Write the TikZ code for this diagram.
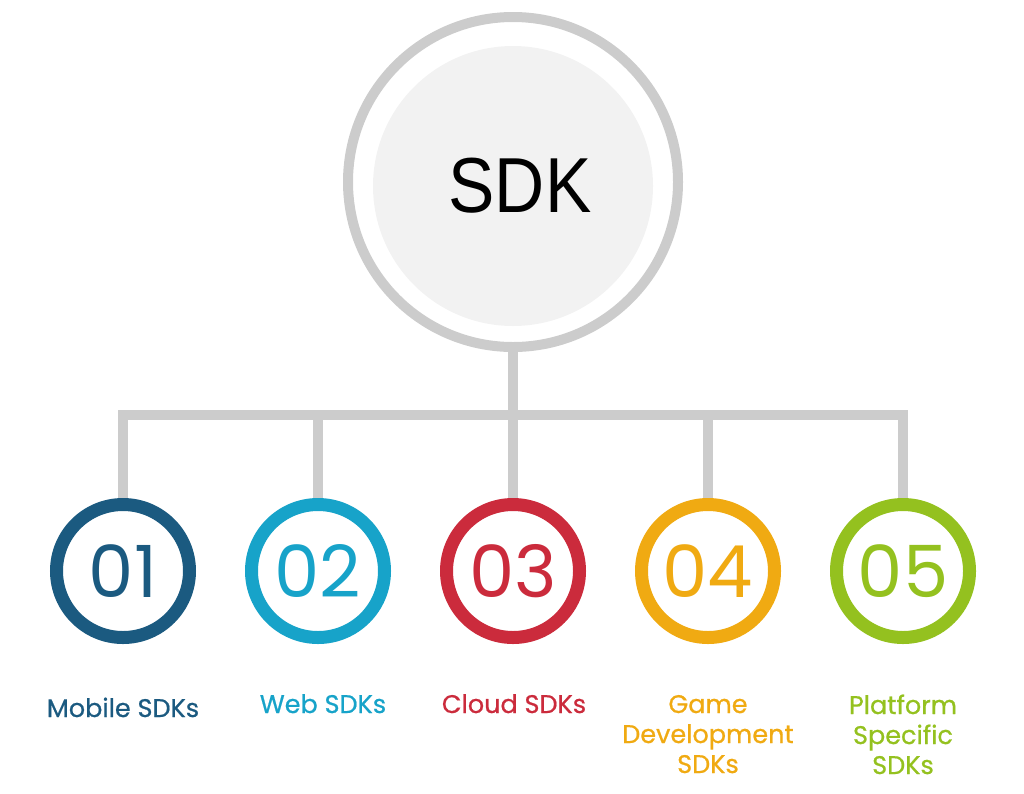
\documentclass[tikz,border=0pt]{standalone}
\usepackage{fontspec}
\setmainfont{Poppins}
\newfontfamily\sdkfont[FakeStretch=0.89]{Liberation Sans}
\definecolor{ringgrey}{HTML}{CCCCCC}
\definecolor{fillgrey}{HTML}{F2F2F2}
\definecolor{cA}{HTML}{1B5A80}
\definecolor{cB}{HTML}{17A3C9}
\definecolor{cC}{HTML}{CB2B3C}
\definecolor{cD}{HTML}{F0AA12}
\definecolor{cE}{HTML}{94C11F}
\tikzset{
  conn/.style={draw=ringgrey, line width=10pt, line join=miter},
  numring/.style={circle, draw=#1, text=#1, line width=13pt, minimum size=133pt, inner sep=0pt, font=\fontsize{72}{72}\selectfont},
  lab/.style={text=#1, align=center, anchor=base, font=\fontsize{25.5}{30}\selectfont\addfontfeatures{FakeBold=0.7}},
}
\begin{document}
\begin{tikzpicture}[x=1pt,y=-1pt]
\useasboundingbox (0,0) rectangle (1024,793);
% central node
\node[circle, draw=ringgrey, line width=10pt, minimum size=330pt, inner sep=0pt] (sdk) at (513,182) {};
\node[circle, fill=fillgrey, minimum size=280pt, inner sep=0pt] (sdkin) at (513,186) {};
\node[font=\sdkfont\fontsize{78}{78}\selectfont, anchor=base] (sdklabel) at (520,212) {SDK};
% numbered circles
\node[numring=cA] (n1) at (123,571) {01};
\node[numring=cB] (n2) at (318,571) {02};
\node[numring=cC] (n3) at (513,571) {03};
\node[numring=cD] (n4) at (708,571) {04};
\node[numring=cE] (n5) at (903,571) {05};
% connectors
\coordinate (b1) at (123,415);
\coordinate (b2) at (318,415);
\coordinate (b4) at (708,415);
\coordinate (b5) at (903,415);
\draw[conn] (sdk.south) -- (n3.north);
\draw[conn] (n1.north) -- (b1) -- (b5) -- (n5.north);
\draw[conn] (n2.north) -- (b2);
\draw[conn] (n4.north) -- (b4);
% labels
\node[lab=cA] (l1) at (123,717) {Mobile SDKs};
\node[lab=cB] (l2) at (323,713) {Web SDKs};
\node[lab=cC] (l3) at (514,713) {Cloud SDKs};
\node[lab=cD] (l4) at (708,773) {Game\\Development\\SDKs};
\node[lab=cE] (l5) at (903,774) {Platform\\Specific\\SDKs};
\end{tikzpicture}
\end{document}
